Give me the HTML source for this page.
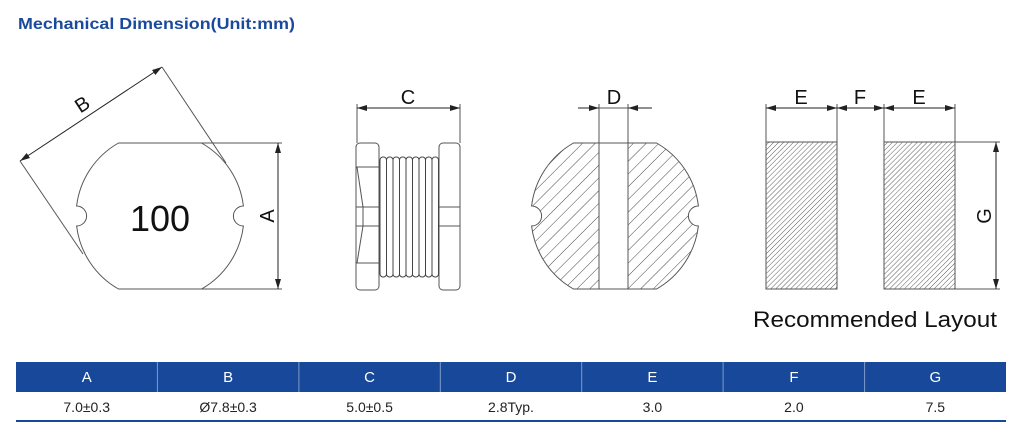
<!DOCTYPE html>
<html><head><meta charset="utf-8"><style>
body{margin:0;background:#fff;width:1024px;height:438px;overflow:hidden}
svg{display:block}
</style></head><body>
<svg width="1024" height="438" viewBox="0 0 1024 438" xmlns="http://www.w3.org/2000/svg" font-family="Liberation Sans, sans-serif">
<defs>
<pattern id="h1" patternUnits="userSpaceOnUse" width="9" height="9" patternTransform="rotate(45)">
<line x1="0" y1="0" x2="0" y2="9" stroke="#333" stroke-width="0.9"/></pattern>
<pattern id="h2" patternUnits="userSpaceOnUse" width="3.5" height="3.5" patternTransform="rotate(45)">
<line x1="0" y1="0" x2="0" y2="3.5" stroke="#333" stroke-width="0.8"/></pattern>
<marker id="ar" markerWidth="10" markerHeight="6" refX="10" refY="3" orient="auto-start-reverse" markerUnits="userSpaceOnUse">
<path d="M0,0 L10,3 L0,6 Z" fill="#222"/></marker>
</defs>
<text x="18" y="29" font-size="16" font-weight="bold" fill="#1a4a9c" textLength="277" lengthAdjust="spacingAndGlyphs">Mechanical Dimension(Unit:mm)</text>

<g fill="none" stroke="#555" stroke-width="1">
<path d="M118.5,143 L201.5,143 A84 84 0 0 1 243.4,206 A10 10 0 0 0 243.4,226 A84 84 0 0 1 201.5,289 L118.5,289 A84 84 0 0 1 76.6,226 A10 10 0 0 0 76.6,206 A84 84 0 0 1 118.5,143 Z"/>
<line x1="200" y1="143" x2="282" y2="143"/>
<line x1="200" y1="289" x2="282" y2="289"/>
<line x1="278" y1="143" x2="278" y2="289" stroke="#222" marker-start="url(#ar)" marker-end="url(#ar)"/>
<line x1="20" y1="161" x2="162" y2="67" stroke="#222" marker-start="url(#ar)" marker-end="url(#ar)"/>
<line x1="20" y1="161" x2="83" y2="254"/>
<line x1="162" y1="67" x2="226" y2="163"/>

<line x1="357" y1="104" x2="357" y2="143"/>
<line x1="460" y1="104" x2="460" y2="143"/>
<line x1="357" y1="108" x2="460" y2="108" stroke="#222" marker-start="url(#ar)" marker-end="url(#ar)"/>
<rect x="356" y="143" width="23" height="147" rx="4"/>
<line x1="356" y1="167" x2="379" y2="167"/>
<line x1="356" y1="207" x2="379" y2="207"/>
<line x1="356" y1="226" x2="379" y2="226"/>
<line x1="356" y1="263" x2="379" y2="263"/>
<line x1="357" y1="167" x2="363" y2="207"/>
<line x1="363" y1="207" x2="363" y2="226"/>
<line x1="363" y1="226" x2="357" y2="263"/>
<rect x="439" y="143" width="21" height="147" rx="4"/>
<line x1="439" y1="207" x2="460" y2="207"/>
<line x1="439" y1="226" x2="460" y2="226"/>
<g stroke="#444">
<rect x="380" y="157" width="6.5" height="120" rx="3"/>
<rect x="386.5" y="157" width="6.5" height="120" rx="3"/>
<rect x="393" y="157" width="6.5" height="120" rx="3"/>
<rect x="399.5" y="157" width="6.5" height="120" rx="3"/>
<rect x="406" y="157" width="6.5" height="120" rx="3"/>
<rect x="412.5" y="157" width="6.5" height="120" rx="3"/>
<rect x="419" y="157" width="6.5" height="120" rx="3"/>
<rect x="425.5" y="157" width="6.5" height="120" rx="3"/>
<rect x="432" y="157" width="6.5" height="120" rx="3"/>
</g>

<path fill="url(#h1)" d="M573.5,143 L656.5,143 A84 84 0 0 1 698.4,206 A10 10 0 0 0 698.4,226 A84 84 0 0 1 656.5,289 L573.5,289 A84 84 0 0 1 531.6,226 A10 10 0 0 0 531.6,206 A84 84 0 0 1 573.5,143 Z"/>
<rect x="599" y="143" width="29" height="146" fill="#fff" stroke="#555"/>
<line x1="599" y1="104" x2="599" y2="143"/>
<line x1="628" y1="104" x2="628" y2="143"/>
<line x1="578" y1="108" x2="599" y2="108" stroke="#222" marker-end="url(#ar)"/>
<line x1="652" y1="108" x2="628" y2="108" stroke="#222" marker-end="url(#ar)"/>
<line x1="599" y1="108" x2="628" y2="108"/>

<rect x="766" y="142" width="71" height="147" fill="url(#h2)"/>
<rect x="884" y="142" width="71" height="147" fill="url(#h2)"/>
<line x1="766" y1="104" x2="766" y2="142"/>
<line x1="837" y1="104" x2="837" y2="142"/>
<line x1="884" y1="104" x2="884" y2="142"/>
<line x1="955" y1="104" x2="955" y2="142"/>
<line x1="766" y1="108" x2="837" y2="108" stroke="#222" marker-start="url(#ar)" marker-end="url(#ar)"/>
<line x1="837" y1="108" x2="884" y2="108" stroke="#222" marker-start="url(#ar)" marker-end="url(#ar)"/>
<line x1="884" y1="108" x2="955" y2="108" stroke="#222" marker-start="url(#ar)" marker-end="url(#ar)"/>
<line x1="955" y1="142" x2="1000" y2="142"/>
<line x1="955" y1="289" x2="1000" y2="289"/>
<line x1="996" y1="142" x2="996" y2="289" stroke="#222" marker-start="url(#ar)" marker-end="url(#ar)"/>
</g>

<g fill="#111" font-size="20" text-anchor="middle">
<text x="160" y="231" font-size="36">100</text>
<text transform="translate(274,216) rotate(-90)">A</text>
<text transform="translate(86,110) rotate(-33)">B</text>
<text x="408" y="104">C</text>
<text x="614" y="104">D</text>
<text x="801" y="104">E</text>
<text x="860" y="104">F</text>
<text x="919" y="104">E</text>
<text transform="translate(991,216) rotate(-90)">G</text>
<text x="875" y="327" font-size="22" textLength="244" lengthAdjust="spacingAndGlyphs">Recommended Layout</text>
</g>

<rect x="16" y="362" width="990" height="30" fill="#17489a"/>
<g stroke="#7f9cc9" stroke-width="1">
<line x1="157.4" y1="362" x2="157.4" y2="392"/><line x1="298.9" y1="362" x2="298.9" y2="392"/>
<line x1="440.3" y1="362" x2="440.3" y2="392"/><line x1="581.7" y1="362" x2="581.7" y2="392"/>
<line x1="723.1" y1="362" x2="723.1" y2="392"/><line x1="864.6" y1="362" x2="864.6" y2="392"/>
</g>
<line x1="16" y1="421" x2="1006" y2="421" stroke="#17489a" stroke-width="2"/>
<g font-size="15" text-anchor="middle" fill="#fff">
<text x="86.7" y="382">A</text><text x="228.1" y="382">B</text><text x="369.6" y="382">C</text>
<text x="511" y="382">D</text><text x="652.4" y="382">E</text><text x="793.9" y="382">F</text><text x="935.3" y="382">G</text>
</g>
<g font-size="14" text-anchor="middle" fill="#222">
<text x="86.7" y="412">7.0±0.3</text><text x="228.1" y="412">Ø7.8±0.3</text><text x="369.6" y="412">5.0±0.5</text>
<text x="511" y="412">2.8Typ.</text><text x="652.4" y="412">3.0</text><text x="793.9" y="412">2.0</text><text x="935.3" y="412">7.5</text>
</g>
</svg>
</body></html>
